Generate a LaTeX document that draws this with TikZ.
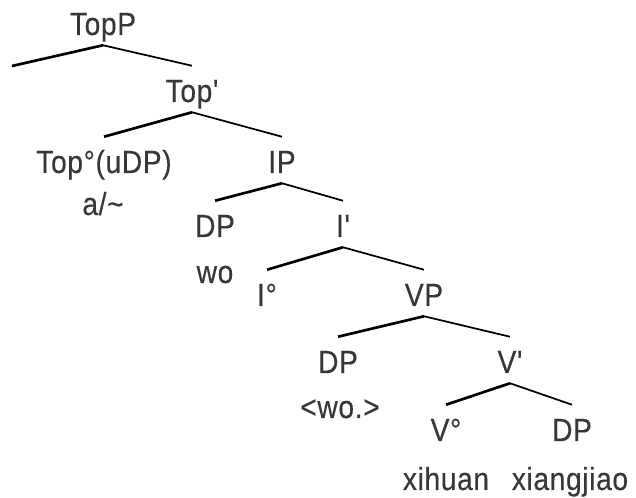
\documentclass[tikz,border=0pt]{standalone}
\usepackage{fontspec}
\newfontfamily\treefont{Liberation Sans}[FakeStretch=0.88,LetterSpace=2,FakeBold=0.3]
\definecolor{wordgray}{RGB}{55,55,55}
\begin{document}
\begin{tikzpicture}[x=0.75pt,y=-0.75pt,
		word/.style={font=\treefont\fontsize{24}{28}\selectfont,text=wordgray,inner sep=0pt,anchor=base},
		phrase/.style={word,text height=27pt,text depth=7.5pt},
		lbranch/.style={line width=2pt},
		rbranch/.style={line width=1.3pt}]
		\useasboundingbox (0,0) rectangle (636,498);
		% categories
		\node[phrase] (topp) at (103,35) {TopP};
		\node[phrase] (topbar) at (192,102) {Top'};
		\node[phrase] (tophead) at (104,173) {Top°(uDP)};
		\node[phrase] (ip) at (282,173) {IP};
		\node[phrase] (dpsubj) at (215,237) {DP};
		\node[phrase] (ibar) at (343,237) {I'};
		\node[phrase] (ihead) at (267,306) {I°};
		\node[phrase] (vp) at (424,306) {VP};
		\node[phrase] (dptrace) at (338,373) {DP};
		\node[phrase] (vbar) at (510,373) {V'};
		\node[phrase] (vhead) at (446,441) {V°};
		\node[phrase] (dpobj) at (572,441) {DP};
		% words
		\node[word] (part) at (103,215) {a/\textasciitilde};
		\node[word] (wo) at (215,283) {wo};
		\node[word] (trace) at (340,418) {<wo.>};
		\node[word] (xihuan) at (446,490) {xihuan};
		\node[word] (xiangjiao) at (570,490) {xiangjiao};
		\coordinate (topspec) at (12,66);
		% branches
		\draw[lbranch] (topp.south) -- (topspec);
		\draw[rbranch] (topp.south) -- (topbar.north);
		\draw[lbranch] (topbar.south) -- (tophead.north);
		\draw[rbranch] (topbar.south) -- (ip.north);
		\draw[lbranch] (ip.south) -- (dpsubj.north);
		\draw[rbranch] (ip.south) -- (ibar.north);
		\draw[lbranch] (ibar.south) -- (ihead.north);
		\draw[rbranch] (ibar.south) -- (vp.north);
		\draw[lbranch] (vp.south) -- (dptrace.north);
		\draw[rbranch] (vp.south) -- (vbar.north);
		\draw[lbranch] (vbar.south) -- (vhead.north);
		\draw[rbranch] (vbar.south) -- (dpobj.north);
	\end{tikzpicture}
\end{document}
